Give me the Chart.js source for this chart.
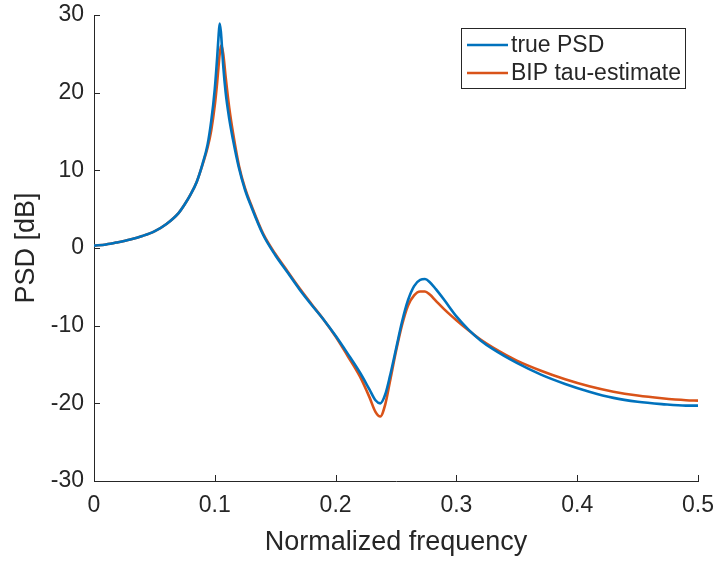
<!DOCTYPE html>
<html>
<head>
<meta charset="utf-8">
<script src="https://cdn.jsdelivr.net/npm/chart.js@4"></script>
<style>
  html, body { margin: 0; padding: 0; background: #fff; }
  #wrap { width: 719px; height: 563px; }
</style>
</head>
<body>
<div id="wrap"><canvas id="myChart" width="719" height="563"></canvas></div>
<script>
// normalized frequency samples
var Freq = [0, 0.01, 0.02, 0.03, 0.04, 0.05, 0.06, 0.07, 0.075, 0.08, 0.085, 0.09,
  0.094, 0.097, 0.1, 0.102, 0.103, 0.104, 0.105, 0.1055, 0.107, 0.109, 0.112, 0.115,
  0.12, 0.125, 0.13, 0.14, 0.15, 0.16, 0.17, 0.18, 0.19, 0.2, 0.21, 0.22, 0.228,
  0.233, 0.237, 0.241, 0.245, 0.25, 0.255, 0.26, 0.265, 0.27, 0.274, 0.278, 0.283,
  0.29, 0.3, 0.31, 0.32, 0.33, 0.35, 0.37, 0.39, 0.41, 0.43, 0.45, 0.47, 0.49, 0.5];
// PSD in dB
var TruePSD = [0.3, 0.45, 0.75, 1.1, 1.55, 2.15, 3.1, 4.5, 5.6, 6.9, 8.5, 10.9,
  13.3, 16.3, 20.5, 24.6, 27.0, 28.9, 27.9, 26.9, 23.4, 20.0, 16.6, 14.0,
  10.3, 7.5, 5.4, 1.7, -0.9, -3.1, -5.3, -7.3, -9.2, -11.3, -13.6, -16.0, -18.2,
  -19.6, -20.0, -18.9, -16.5, -13.0, -9.5, -6.7, -4.9, -4.1, -4.0, -4.4, -5.3,
  -6.7, -8.8, -10.5, -11.9, -13.0, -14.8, -16.3, -17.5, -18.5, -19.3, -19.8, -20.1, -20.3, -20.3];
var TauEst = [0.3, 0.45, 0.75, 1.1, 1.55, 2.15, 3.1, 4.5, 5.6, 6.9, 8.5, 10.8,
  12.9, 15.1, 18.4, 21.4, 23.2, 24.9, 25.9, 26.1, 25.0, 22.0, 18.0, 14.9,
  10.6, 7.7, 5.6, 1.85, -0.75, -2.95, -5.15, -7.2, -9.2, -11.4, -13.9, -16.5, -19.2,
  -21.1, -21.7, -20.2, -17.2, -13.3, -9.9, -7.4, -6.1, -5.6, -5.6, -6.0, -6.8,
  -7.9, -9.3, -10.6, -11.8, -12.8, -14.5, -15.8, -16.9, -17.8, -18.5, -19.0, -19.35, -19.6, -19.65];
var SeriesNames = ["true PSD", "BIP tau-estimate"];
var SeriesColors = ["#0072BD", "#D95319"];

var axisColor = "#262626";
var fontFam = "'Liberation Sans', Arial, Helvetica, sans-serif";

function pts(ys) {
  return Freq.map(function (f, i) { return { x: f, y: ys[i] }; });
}

// MATLAB style: ticks pointing into the axes, legend box in the upper right
var matlabBits = {
  id: 'matlabBits',
  afterDraw: function (chart) {
    var ctx = chart.ctx, a = chart.chartArea;
    var xs = chart.scales.x, ys = chart.scales.y;
    ctx.save();
    ctx.strokeStyle = axisColor;
    ctx.lineWidth = 1;
    ctx.beginPath();
    xs.ticks.forEach(function (t) {
      var px = Math.round(xs.getPixelForValue(t.value)) + 0.5;
      ctx.moveTo(px, a.bottom);
      ctx.lineTo(px, a.bottom - 6);
    });
    ys.ticks.forEach(function (t) {
      var py = Math.round(ys.getPixelForValue(t.value)) + 0.5;
      ctx.moveTo(a.left, py);
      ctx.lineTo(a.left + 6, py);
    });
    ctx.stroke();

    // legend
    var bx = 461.5, by = 28.5, bw = 224, bh = 60;
    ctx.fillStyle = '#fff';
    ctx.fillRect(bx, by, bw, bh);
    ctx.strokeStyle = axisColor;
    ctx.strokeRect(bx, by, bw, bh);
    ctx.font = "23px " + fontFam;
    ctx.textBaseline = 'middle';
    ctx.textAlign = 'left';
    SeriesNames.forEach(function (name, i) {
      var ly = 45 + i * 28;
      ctx.strokeStyle = SeriesColors[i];
      ctx.lineWidth = 2.6;
      ctx.beginPath();
      ctx.moveTo(467, ly);
      ctx.lineTo(508, ly);
      ctx.stroke();
      ctx.fillStyle = axisColor;
      ctx.fillText(name, 511, ly + 1);
    });
    ctx.restore();
  }
};

var ctx = document.getElementById("myChart");
var myChart = new Chart(ctx, {
  type: 'line',
  data: {
    datasets: [
      {
        data: pts(TruePSD),
        label: SeriesNames[0],
        borderColor: SeriesColors[0],
        borderWidth: 2.6,
        pointRadius: 0,
        fill: false,
        cubicInterpolationMode: 'monotone'
      },
      {
        data: pts(TauEst),
        label: SeriesNames[1],
        borderColor: SeriesColors[1],
        borderWidth: 2.6,
        pointRadius: 0,
        fill: false,
        cubicInterpolationMode: 'monotone'
      }
    ]
  },
  options: {
    responsive: false,
    animation: false,
    layout: { padding: { top: 15, right: 21, left: 0, bottom: 0 } },
    plugins: {
      legend: { display: false },
      tooltip: { enabled: false }
    },
    scales: {
      x: {
        type: 'linear',
        min: 0,
        max: 0.5,
        afterFit: function (s) {
          s.height = 82;
          s.paddingLeft = 0;
          s.paddingRight = 0;
        },
        grid: { display: false, drawTicks: false },
        border: { display: true, color: axisColor, width: 1 },
        ticks: {
          stepSize: 0.1,
          padding: 11,
          color: axisColor,
          font: { family: fontFam, size: 23 },
          maxRotation: 0,
          callback: function (v) { return String(Math.round(v * 10) / 10); }
        },
        title: {
          display: true,
          text: 'Normalized frequency',
          color: axisColor,
          font: { family: fontFam, size: 27 },
          padding: { top: 0, bottom: 4 }
        }
      },
      y: {
        min: -30,
        max: 30,
        afterFit: function (s) {
          s.width = 94;
          s.paddingTop = 0;
          s.paddingBottom = 0;
        },
        grid: { display: false, drawTicks: false },
        border: { display: true, color: axisColor, width: 1 },
        ticks: {
          stepSize: 10,
          padding: 10,
          color: axisColor,
          font: { family: fontFam, size: 23 }
        },
        title: {
          display: true,
          text: 'PSD [dB]',
          color: axisColor,
          font: { family: fontFam, size: 27 },
          padding: { top: 10, bottom: 0 }
        }
      }
    }
  },
  plugins: [matlabBits]
});
</script>
</body>
</html>
